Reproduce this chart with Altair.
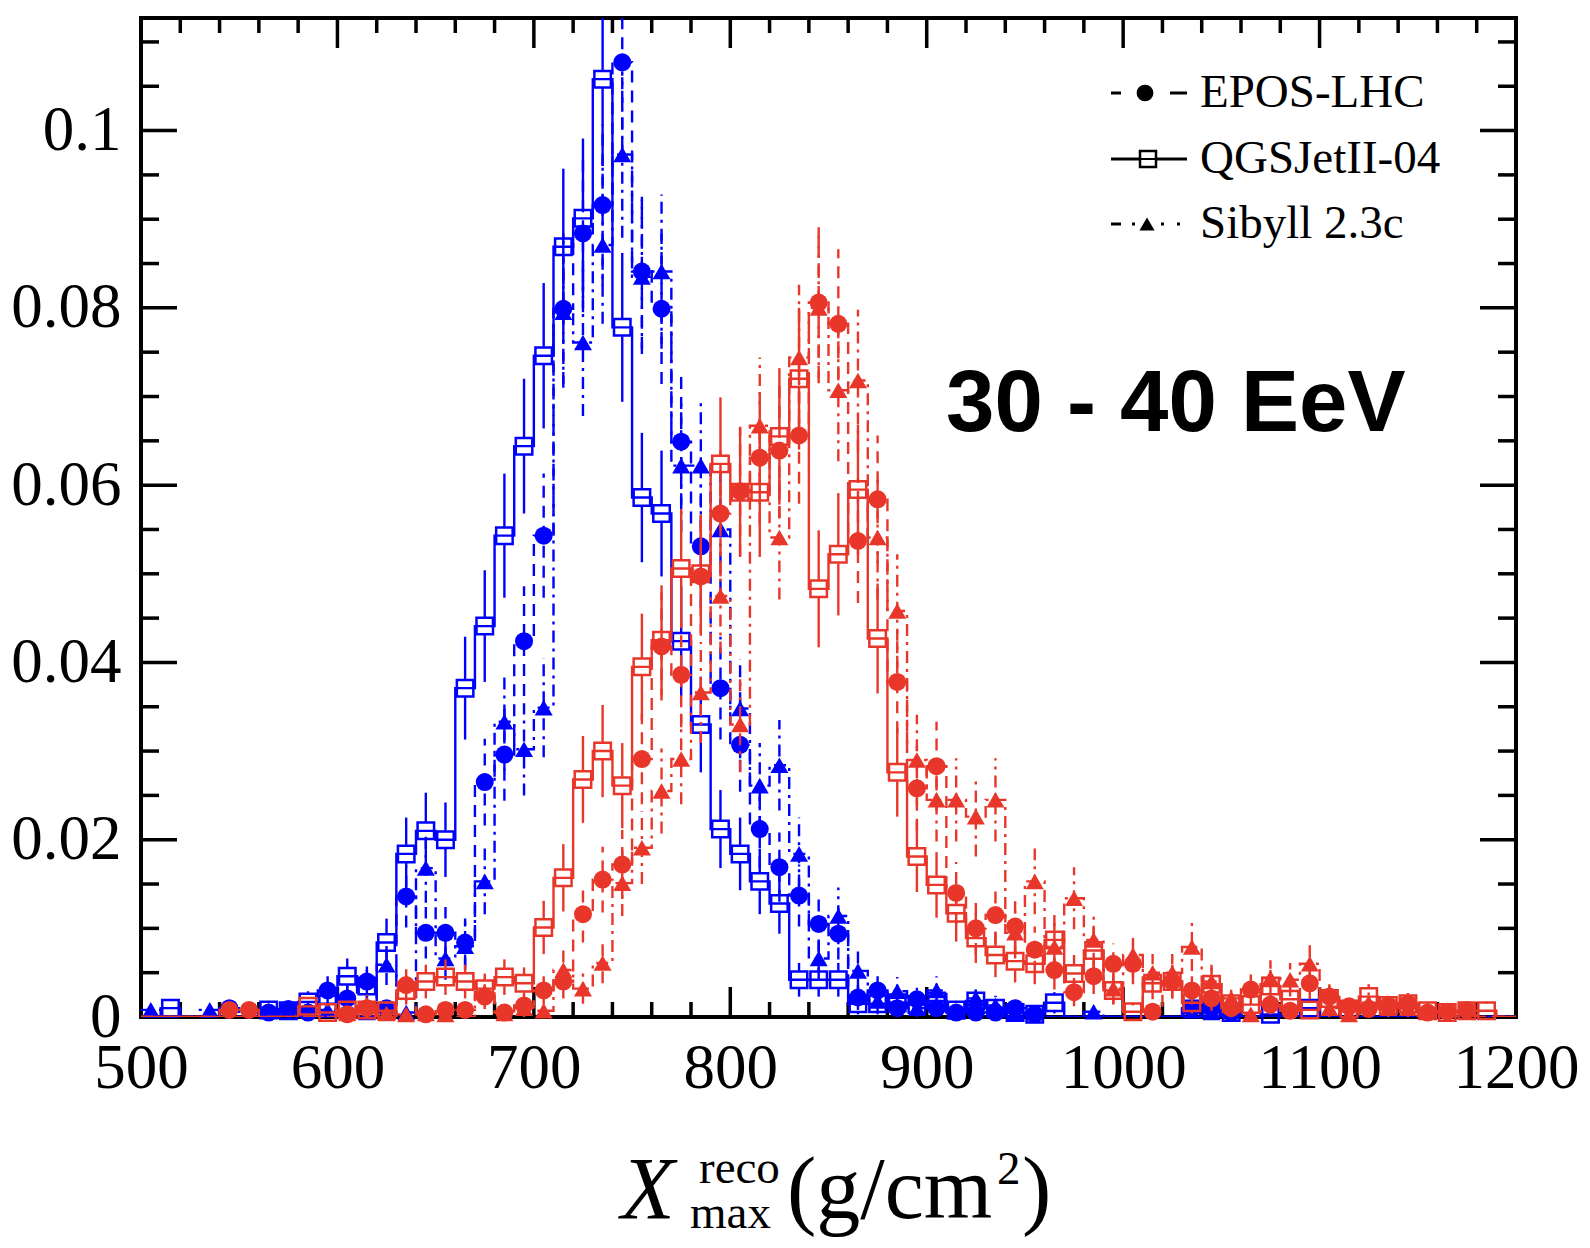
import altair as alt
import pandas as pd

# ---------------- data (bin centres, 10 g/cm^2 bins from 500 to 1200) ----------------
BIN_CENTERS = list(range(505, 1200, 10))

# blue: QGSJetII-04 (open squares), EPOS-LHC (circles), Sibyll 2.3c (triangles)
BQ = [0, 0.001, 0, 0, 0, 0, 0.0008, 0.0007, 0.0017, 0.0015,
      0.0046, 0.0035, 0.0084, 0.0184, 0.021, 0.020, 0.0371, 0.0441, 0.0543, 0.0644,
      0.0746, 0.0869, 0.0901, 0.1058, 0.0778, 0.0586, 0.0568, 0.0424, 0.033, 0.0212,
      0.0184, 0.0153, 0.0128, 0.0042, 0.0042, 0.0042, 0.0015, 0.0015, 0.0016, 0.0014,
      0.0018, 0.0008, 0.0018, 0.001, 0.0005, 0.0003, 0.0016, 0, 0, 0,
      0, 0, 0, 0.0009, 0.001, 0.0005, 0, 0.0003, 0, 0.001,
      0, 0, 0, 0, 0, 0, 0, 0, 0, 0]
BQ_ERR = [0, 0.001, 0, 0, 0, 0, 0.0008, 0.0008, 0.0012, 0.0012,
          0.002, 0.0018, 0.0027, 0.0041, 0.0043, 0.0042, 0.0058, 0.0063, 0.007, 0.0076,
          0.0082, 0.0088, 0.009, 0.0098, 0.0084, 0.0073, 0.0071, 0.0062, 0.0054, 0.0044,
          0.0041, 0.0037, 0.0034, 0.0019, 0.0019, 0.0019, 0.0012, 0.0012, 0.0012, 0.0011,
          0.0013, 0.0008, 0.0013, 0.001, 0.0007, 0.0005, 0.0012, 0, 0, 0,
          0, 0, 0, 0.0009, 0.001, 0.0007, 0, 0.0005, 0, 0.001,
          0, 0, 0, 0, 0, 0, 0, 0, 0, 0]
BE = [0, 0, 0, 0, 0.001, 0, 0.0005, 0.0009, 0.0005, 0.003,
      0.0021, 0.004, 0.001, 0.0136, 0.0095, 0.0095, 0.0084, 0.0265, 0.0296, 0.0424,
      0.0543, 0.0799, 0.0884, 0.0916, 0.1077, 0.0841, 0.0799, 0.0649, 0.0531, 0.0371,
      0.0307, 0.0212, 0.0169, 0.0137, 0.0105, 0.0094, 0.0022, 0.003, 0.001, 0.002,
      0.001, 0.0005, 0.0005, 0.0005, 0.001, 0.0003, 0, 0, 0, 0,
      0, 0, 0, 0.001, 0.001, 0.0005, 0, 0, 0, 0,
      0, 0, 0, 0, 0, 0, 0, 0, 0, 0]
BE_ERR = [0, 0, 0, 0, 0.001, 0, 0.0007, 0.0009, 0.0007, 0.0016,
          0.0014, 0.0019, 0.001, 0.0035, 0.0029, 0.0029, 0.0027, 0.0049, 0.0052, 0.0062,
          0.007, 0.0085, 0.0089, 0.0091, 0.0098, 0.0087, 0.0085, 0.0076, 0.0069, 0.0058,
          0.0053, 0.0044, 0.0039, 0.0035, 0.0031, 0.0029, 0.0014, 0.0016, 0.001, 0.0013,
          0.001, 0.0007, 0.0007, 0.0007, 0.001, 0.0005, 0, 0, 0, 0,
          0, 0, 0, 0.001, 0.001, 0.0007, 0, 0, 0, 0,
          0, 0, 0, 0, 0, 0, 0, 0, 0, 0]
BS = [0.0008, 0, 0, 0.0008, 0, 0, 0.0007, 0, 0.0008, 0.0008,
      0.001, 0.0005, 0.0059, 0.0005, 0.0168, 0.0066, 0.008, 0.0153, 0.0333, 0.0302,
      0.0349, 0.0795, 0.0761, 0.0871, 0.0973, 0.0835, 0.0841, 0.0622, 0.0622, 0.055,
      0.0348, 0.0261, 0.0284, 0.0184, 0.0066, 0.0114, 0.0052, 0.0018, 0.0029, 0.001,
      0.003, 0.0006, 0.0021, 0.0013, 0.0005, 0.0005, 0, 0, 0.0006, 0,
      0, 0, 0, 0, 0.0005, 0, 0, 0, 0, 0,
      0, 0, 0, 0, 0, 0, 0, 0, 0, 0]
BS_ERR = [0.0008, 0, 0, 0.0008, 0, 0, 0.0008, 0, 0.0008, 0.0008,
          0.001, 0.0007, 0.0023, 0.0007, 0.0039, 0.0024, 0.0027, 0.0037, 0.0055, 0.0052,
          0.0056, 0.0085, 0.0083, 0.0089, 0.0094, 0.0087, 0.0087, 0.0075, 0.0075, 0.007,
          0.0056, 0.0048, 0.0051, 0.0041, 0.0024, 0.0032, 0.0022, 0.0013, 0.0016, 0.001,
          0.0016, 0.0007, 0.0014, 0.0011, 0.0007, 0.0007, 0, 0, 0.0007, 0,
          0, 0, 0, 0, 0.0007, 0, 0, 0, 0, 0,
          0, 0, 0, 0, 0, 0, 0, 0, 0, 0]

# red
RQ = [0, 0, 0, 0, 0, 0, 0, 0, 0.0012, 0.0005,
      0.0008, 0.0008, 0.0007, 0.003, 0.004, 0.0045, 0.004, 0.0032, 0.0045, 0.0038,
      0.0101, 0.0157, 0.0268, 0.030, 0.0261, 0.0395, 0.0425, 0.0506, 0.050, 0.0624,
      0.0592, 0.0592, 0.0655, 0.072, 0.0483, 0.0522, 0.0595, 0.0427, 0.0276, 0.0181,
      0.0149, 0.0117, 0.0089, 0.007, 0.0063, 0.006, 0.0087, 0.0049, 0.0075, 0.003,
      0.0006, 0.0038, 0.004, 0.0016, 0.0037, 0.0015, 0.0014, 0.0035, 0.002, 0.0008,
      0.0021, 0.0009, 0.0023, 0.0013, 0.0015, 0.0007, 0.0005, 0.0007, 0.0007, 0]
RQ_ERR = [0, 0, 0, 0, 0, 0, 0, 0, 0.001, 0.0007,
          0.0008, 0.0008, 0.0008, 0.0016, 0.0019, 0.002, 0.0019, 0.0017, 0.002, 0.0018,
          0.003, 0.0038, 0.0049, 0.0052, 0.0048, 0.006, 0.0062, 0.0067, 0.0067, 0.0075,
          0.0073, 0.0073, 0.0077, 0.008, 0.0066, 0.0069, 0.0073, 0.0062, 0.005, 0.004,
          0.0037, 0.0032, 0.0028, 0.0025, 0.0024, 0.0023, 0.0028, 0.0021, 0.0026, 0.0016,
          0.0007, 0.0018, 0.0019, 0.0012, 0.0018, 0.0012, 0.0011, 0.0018, 0.0013, 0.0008,
          0.0014, 0.0009, 0.0014, 0.0011, 0.0012, 0.0008, 0.0007, 0.0008, 0.0008, 0]
RE = [0, 0, 0, 0, 0.0008, 0.0008, 0, 0, 0, 0,
      0.0003, 0.001, 0, 0.0036, 0.0003, 0.0008, 0.0008, 0.0023, 0.0005, 0.0013,
      0.003, 0.004, 0.0116, 0.0155, 0.0172, 0.0291, 0.0418, 0.0386, 0.0497, 0.0568,
      0.0593, 0.0631, 0.0639, 0.0656, 0.0806, 0.0782, 0.0537, 0.0584, 0.0378, 0.0258,
      0.0283, 0.014, 0.010, 0.0115, 0.0102, 0.0076, 0.0053, 0.0028, 0.0046, 0.006,
      0.006, 0.0006, 0.004, 0.003, 0.0021, 0.001, 0.0031, 0.0014, 0.0007, 0.0038,
      0.0023, 0.0012, 0.0009, 0.0013, 0.0015, 0.0005, 0.0006, 0.0008, 0, 0]
RE_ERR = [0, 0, 0, 0, 0.0008, 0.0008, 0, 0, 0, 0,
          0.0005, 0.001, 0, 0.0018, 0.0005, 0.0008, 0.0008, 0.0014, 0.0007, 0.0011,
          0.0016, 0.0019, 0.0032, 0.0037, 0.0039, 0.0051, 0.0061, 0.0059, 0.0067, 0.0071,
          0.0073, 0.0075, 0.0076, 0.0077, 0.0085, 0.0084, 0.007, 0.0072, 0.0058, 0.0048,
          0.005, 0.0035, 0.003, 0.0032, 0.003, 0.0026, 0.0022, 0.0016, 0.002, 0.0023,
          0.0023, 0.0007, 0.0019, 0.0016, 0.0014, 0.001, 0.0017, 0.0011, 0.0008, 0.0018,
          0.0014, 0.001, 0.0009, 0.0011, 0.0012, 0.0007, 0.0007, 0.0008, 0, 0]
RS = [0, 0, 0, 0, 0, 0, 0, 0, 0, 0,
      0.0004, 0.0014, 0.0004, 0.0003, 0.0004, 0.0003, 0, 0.0028, 0.0004, 0.001,
      0.0007, 0.0053, 0.0032, 0.0061, 0.0151, 0.0191, 0.0255, 0.0291, 0.0366, 0.0475,
      0.033, 0.0667, 0.0541, 0.0744, 0.080, 0.0707, 0.0718, 0.0541, 0.0458, 0.029,
      0.0245, 0.0245, 0.0226, 0.0245, 0.0095, 0.0153, 0.0079, 0.0134, 0.0087, 0.0032,
      0.007, 0.005, 0.005, 0.0079, 0.004, 0.0021, 0.0003, 0.0044, 0.0042, 0.006,
      0.001, 0.0003, 0.0016, 0.001, 0.001, 0, 0, 0, 0, 0]
RS_ERR = [0, 0, 0, 0, 0, 0, 0, 0, 0, 0,
          0.0006, 0.0011, 0.0006, 0.0005, 0.0006, 0.0005, 0, 0.0016, 0.0006, 0.001,
          0.0008, 0.0022, 0.0017, 0.0023, 0.0037, 0.0041, 0.0048, 0.0051, 0.0057, 0.0065,
          0.0054, 0.0077, 0.007, 0.0082, 0.0085, 0.008, 0.008, 0.007, 0.0064, 0.0051,
          0.0047, 0.0047, 0.0045, 0.0047, 0.0029, 0.0037, 0.0027, 0.0035, 0.0028, 0.0017,
          0.0025, 0.0021, 0.0021, 0.0027, 0.0019, 0.0014, 0.0005, 0.002, 0.0019, 0.0023,
          0.001, 0.0005, 0.0012, 0.001, 0.001, 0, 0, 0, 0, 0]

X_LABELS = [500, 600, 700, 800, 900, 1000, 1100, 1200]
Y_LABELS = [0, 0.02, 0.04, 0.06, 0.08, 0.1]
X_MAJOR = [600, 700, 800, 900, 1000, 1100]
X_MINOR = [v for v in range(520, 1200, 20) if v % 100 != 0]
Y_MAJOR = [0.02, 0.04, 0.06, 0.08, 0.1]
Y_MINOR = [round(0.005 * k, 3) for k in range(1, 23) if k % 4 != 0]

LEGEND_NAMES = ["EPOS-LHC", "QGSJetII-04", "Sibyll 2.3c"]
ENERGY_LABEL = "30 - 40 EeV"

# ---------------- style ----------------
BLUE = "#0000FF"
RED = "#E8372A"
SERIF = "Liberation Serif"
SANS = "Liberation Sans"
W, H = 1375, 999
DASH_EPOS = [12, 8]
DASH_SIB = [12, 6, 3, 6]
LW = 2.4

XS = alt.Scale(domain=[500, 1200], nice=False, zero=False)
YS = alt.Scale(domain=[0, 0.1127], nice=False, zero=False)
X_AXIS = alt.Axis(title="", values=X_LABELS, format="d", ticks=False, tickSize=0,
                  domain=False, grid=False, labelFont=SERIF, labelFontSize=63,
                  labelColor="black", labelPadding=20, labelFlush=False,
                  labelOverlap=False)
Y_AXIS = alt.Axis(title="", values=Y_LABELS, format=".2~f", ticks=False, tickSize=0,
                  domain=False, grid=False, labelFont=SERIF, labelFontSize=63,
                  labelColor="black", labelPadding=20, labelFlush=False,
                  labelOverlap=False)


def X(field):
    return alt.X(f"{field}:Q", scale=XS, axis=X_AXIS)


def Y(field):
    return alt.Y(f"{field}:Q", scale=YS, axis=Y_AXIS)


layers = []

# ---------------- inward ticks on all four sides ----------------
tick = dict(color="black", strokeWidth=3.5)
xmaj = pd.DataFrame({"x": X_MAJOR})
xmin = pd.DataFrame({"x": X_MINOR})
ymaj = pd.DataFrame({"y": Y_MAJOR})
ymin = pd.DataFrame({"y": Y_MINOR})
for df, ln in ((xmaj, 30), (xmin, 15)):
    layers.append(alt.Chart(df).mark_rule(**tick).encode(
        x=X("x"), y=alt.value(H), y2=alt.value(H - ln)))
    layers.append(alt.Chart(df).mark_rule(**tick).encode(
        x=X("x"), y=alt.value(0), y2=alt.value(ln)))
for df, ln in ((ymaj, 36), (ymin, 18)):
    layers.append(alt.Chart(df).mark_rule(**tick).encode(
        y=Y("y"), x=alt.value(0), x2=alt.value(ln)))
    layers.append(alt.Chart(df).mark_rule(**tick).encode(
        y=Y("y"), x=alt.value(W - ln), x2=alt.value(W)))

# ---------------- histograms ----------------
SERIES = [
    dict(vals=BQ, errs=BQ_ERR, color=BLUE, dash=None, shape="square"),
    dict(vals=BS, errs=BS_ERR, color=BLUE, dash=DASH_SIB, shape="triangle-up"),
    dict(vals=BE, errs=BE_ERR, color=BLUE, dash=DASH_EPOS, shape="circle"),
    dict(vals=RQ, errs=RQ_ERR, color=RED, dash=None, shape="square"),
    dict(vals=RS, errs=RS_ERR, color=RED, dash=DASH_SIB, shape="triangle-up"),
    dict(vals=RE, errs=RE_ERR, color=RED, dash=DASH_EPOS, shape="circle"),
]

for s in SERIES:
    vals, errs = s["vals"], s["errs"]
    step = pd.DataFrame({
        "x": [c - 5 for c in BIN_CENTERS] + [BIN_CENTERS[-1] + 5],
        "v": vals + [vals[-1]],
    })
    pts = pd.DataFrame({"x": BIN_CENTERS, "v": vals, "e": errs})
    pts = pts[pts["v"] > 0].copy()
    pts["lo"] = pts["v"] - pts["e"]
    pts["hi"] = pts["v"] + pts["e"]
    kw = dict(color=s["color"], strokeWidth=LW, clip=True)
    if s["dash"]:
        kw["strokeDash"] = s["dash"]
    layers.append(alt.Chart(step).mark_line(interpolate="step-after", **kw).encode(
        x=X("x"), y=Y("v")))
    if s["shape"] == "square":
        layers.append(alt.Chart(pts).mark_rule(yOffset=-9, **kw).encode(
            x=X("x"), y=Y("v"), y2=alt.Y2("hi")))
        layers.append(alt.Chart(pts).mark_rule(y2Offset=9, **kw).encode(
            x=X("x"), y=Y("lo"), y2=alt.Y2("v")))
        layers.append(alt.Chart(pts).mark_point(
            shape="square", filled=False, size=272, color=s["color"],
            strokeWidth=2.5, opacity=1).encode(x=X("x"), y=Y("v")))
    else:
        layers.append(alt.Chart(pts).mark_rule(**kw).encode(
            x=X("x"), y=Y("lo"), y2=alt.Y2("hi")))
        layers.append(alt.Chart(pts).mark_point(
            shape=s["shape"], filled=True, size=324, color=s["color"],
            opacity=1).encode(x=X("x"), y=Y("v")))

# ---------------- legend ----------------
one = pd.DataFrame({"k": [0]})
leg_rule = dict(color="black", strokeWidth=3)
# EPOS-LHC
layers.append(alt.Chart(one).mark_rule(**leg_rule).encode(
    x=alt.value(970), x2=alt.value(980), y=alt.value(75)))
layers.append(alt.Chart(one).mark_rule(**leg_rule).encode(
    x=alt.value(1029), x2=alt.value(1046), y=alt.value(75)))
layers.append(alt.Chart(one).mark_point(shape="circle", filled=True, size=280,
                                        color="black", opacity=1).encode(
    x=alt.value(1004), y=alt.value(75)))
# QGSJetII-04
layers.append(alt.Chart(one).mark_rule(**leg_rule).encode(
    x=alt.value(970), x2=alt.value(1046), y=alt.value(141)))
layers.append(alt.Chart(one).mark_point(shape="square", filled=True, size=256,
                                        color="white", opacity=1).encode(
    x=alt.value(1007), y=alt.value(141)))
layers.append(alt.Chart(one).mark_point(shape="square", filled=False, size=256,
                                        color="black", strokeWidth=2.5,
                                        opacity=1).encode(
    x=alt.value(1007), y=alt.value(141)))
layers.append(alt.Chart(one).mark_rule(color="black", strokeWidth=2).encode(
    x=alt.value(999), x2=alt.value(1015), y=alt.value(141)))
# Sibyll 2.3c
for a, b in ((970, 980), (991, 994), (1020, 1023), (1036, 1039)):
    layers.append(alt.Chart(one).mark_rule(**leg_rule).encode(
        x=alt.value(a), x2=alt.value(b), y=alt.value(206)))
layers.append(alt.Chart(one).mark_point(shape="triangle-up", filled=True, size=230,
                                        color="black", opacity=1).encode(
    x=alt.value(1006), y=alt.value(206)))
for name, yb in zip(LEGEND_NAMES, (89, 155, 220)):
    layers.append(alt.Chart(pd.DataFrame({"t": [name]})).mark_text(
        align="left", baseline="alphabetic", font=SERIF, fontSize=47,
        color="black").encode(x=alt.value(1059), y=alt.value(yb), text="t:N"))

# ---------------- energy label ----------------
layers.append(alt.Chart(pd.DataFrame({"t": [ENERGY_LABEL]})).mark_text(
    align="left", baseline="alphabetic", font=SANS, fontSize=87, fontWeight="bold",
    color="black").encode(x=alt.value(805), y=alt.value(413), text="t:N"))

# ---------------- x-axis title  X_max^reco (g/cm^2) ----------------
TITLE_PARTS = [
    ("X", 480, 1200, 88, "italic"),
    ("reco", 558, 1165, 47, "normal"),
    ("max", 549, 1210, 47, "normal"),
    ("(g/cm", 646, 1200, 88, "normal"),
    ("2", 856, 1166, 47, "normal"),
    (")", 881, 1200, 88, "normal"),
]
for txt, tx, ty, fs, st in TITLE_PARTS:
    layers.append(alt.Chart(pd.DataFrame({"t": [txt]})).mark_text(
        align="left", baseline="alphabetic", font=SERIF, fontSize=fs, fontStyle=st,
        color="black").encode(x=alt.value(tx), y=alt.value(ty), text="t:N"))

chart = alt.layer(*layers).properties(
    width=W, height=H,
    padding={"left": 133, "top": 10, "right": 66, "bottom": 230},
    autosize=alt.AutoSizeParams(type="none"),
    background="white",
).configure_view(stroke="black", strokeWidth=4)

chart.save("out.html", embed_options={"renderer": "svg", "actions": False})
